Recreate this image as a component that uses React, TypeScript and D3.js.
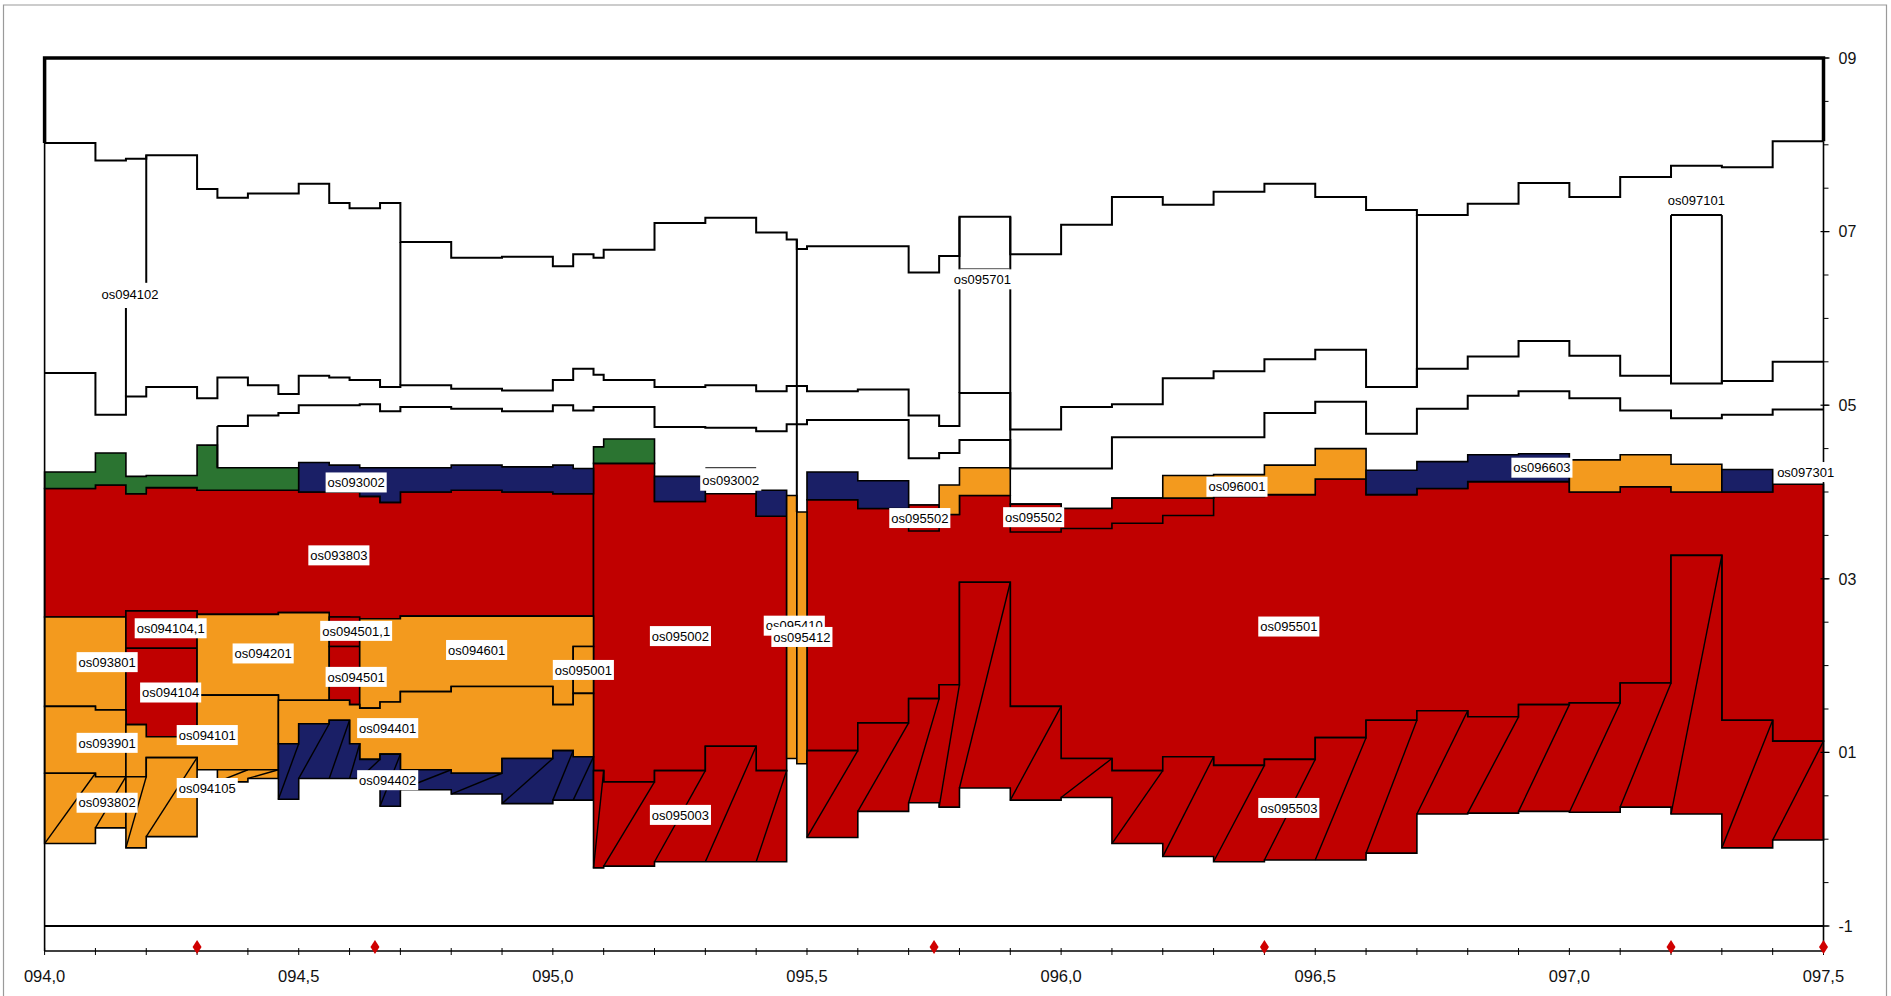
import React from 'react';
import * as d3 from 'd3';

const RED = '#c00000';
const ORANGE = '#f39a1e';
const NAVY = '#1a1f66';
const GREEN = '#2b7431';

// boundary step lines of the white upper units: [x, value]
const lineA = [[94.0, 8.02], [94.1, 7.82], [94.16, 7.84], [94.2, 7.88], [94.3, 7.49], [94.34, 7.39], [94.4, 7.44], [94.5, 7.55], [94.56, 7.33], [94.6, 7.27], [94.66, 7.33], [94.7, 6.88], [94.8, 6.70], [94.9, 6.71], [95.0, 6.60], [95.04, 6.74], [95.08, 6.70], [95.1, 6.79], [95.2, 7.10], [95.3, 7.16], [95.4, 6.99], [95.46, 6.91], [95.48, 6.80], [95.5, 6.83], [95.7, 6.53], [95.76, 6.72], [95.8, 7.17], [95.9, 6.74], [96.0, 7.08], [96.1, 7.40], [96.2, 7.31], [96.3, 7.46], [96.4, 7.55], [96.5, 7.40], [96.6, 7.25], [96.7, 7.19], [96.8, 7.32], [96.9, 7.56], [97.0, 7.40], [97.1, 7.63], [97.2, 7.76], [97.3, 7.74], [97.4, 8.04], [97.5, 8.04]];
const lineB = [[94.0, 5.37], [94.1, 4.89], [94.16, 5.10], [94.2, 5.21], [94.3, 5.08], [94.34, 5.32], [94.4, 5.23], [94.46, 5.13], [94.5, 5.34], [94.56, 5.32], [94.6, 5.29], [94.66, 5.21], [94.7, 5.23], [94.8, 5.19], [94.9, 5.17], [95.0, 5.29], [95.04, 5.42], [95.08, 5.35], [95.1, 5.29], [95.2, 5.21], [95.3, 5.23], [95.4, 5.16], [95.46, 5.22], [95.5, 5.16], [95.6, 5.18], [95.7, 4.88], [95.76, 4.76], [95.8, 5.14], [95.9, 4.72], [96.0, 4.98], [96.1, 5.01], [96.2, 5.31], [96.3, 5.39], [96.4, 5.53], [96.5, 5.64], [96.6, 5.21], [96.7, 5.42], [96.8, 5.56], [96.9, 5.74], [97.0, 5.57], [97.1, 5.34], [97.2, 5.25], [97.3, 5.28], [97.4, 5.50], [97.5, 5.50]];
const lineC = [[94.34, 4.76], [94.4, 4.88], [94.46, 4.91], [94.5, 5.00], [94.62, 5.01], [94.66, 4.93], [94.7, 4.98], [94.8, 4.96], [94.9, 4.93], [95.0, 5.00], [95.04, 4.94], [95.08, 4.98], [95.2, 4.75], [95.3, 4.74], [95.4, 4.70], [95.46, 4.78], [95.5, 4.83], [95.7, 4.39], [95.76, 4.45], [95.8, 4.60], [95.9, 4.27], [96.1, 4.63], [96.4, 4.91], [96.5, 5.04], [96.6, 4.67], [96.7, 4.96], [96.8, 5.11], [96.9, 5.16], [97.0, 5.08], [97.1, 4.94], [97.2, 4.85], [97.3, 4.89], [97.4, 4.95], [97.5, 4.95]];

// vertical separators: [x, from, to]
const separators = [[94.2, 7.88, 6.41], [94.16, 6.12, 5.10], [94.7, 6.88, 5.23], [94.34, 4.76, 4.28], [95.48, 6.91, 3.77], [95.8, 7.17, 5.14], [95.9, 7.17, 4.28], [96.7, 7.19, 5.21], [97.2, 7.19, 5.25], [97.3, 7.19, 5.25]];
// short horizontal segments: [x0, x1, value]
const segments = [[97.2, 97.3, 7.19], [95.8, 95.9, 6.57], [95.3, 95.4, 4.28]];

// coloured units: rows [xStart, top, bottom], last row [xEnd]
const os093803 = [[94.0, 4.04, 2.56], [94.1, 4.08, 2.56], [94.16, 3.98, 2.63], [94.2, 4.05, 2.63], [94.3, 4.02, 2.59], [94.46, 4.02, 2.61], [94.5, 4.00, 2.61], [94.56, 4.00, 2.56], [94.6, 4.00, 2.54], [94.62, 3.95, 2.54], [94.66, 3.88, 2.54], [94.7, 4.00, 2.57], [94.8, 4.02, 2.57], [94.9, 4.00, 2.57], [95.0, 3.98, 2.57], [95.08]];
const os095002 = [[95.08, 4.33, 0.79], [95.1, 4.33, 0.66], [95.2, 3.89, 0.79], [95.3, 3.98, 1.07], [95.4, 3.72, 0.79], [95.46]];
const os095501 = [[95.5, 3.91, 1.02], [95.6, 3.81, 1.34], [95.7, 3.85, 1.62], [95.76, 3.74, 1.78], [95.8, 3.96, 2.96], [95.9, 3.86, 1.53], [96.0, 3.81, 0.93], [96.1, 3.93, 0.79], [96.2, 3.93, 0.95], [96.3, 3.95, 0.85], [96.4, 3.97, 0.92], [96.5, 4.15, 1.17], [96.6, 3.97, 1.37], [96.7, 4.04, 1.48], [96.8, 4.12, 1.41], [96.9, 4.12, 1.55], [97.0, 4.00, 1.57], [97.1, 4.06, 1.80], [97.2, 4.00, 3.27], [97.3, 4.00, 1.37], [97.4, 4.09, 1.13], [97.5]];
const os095502a = [[95.7, 3.85, 3.55], [95.76]];
const os095502b = [[95.9, 3.86, 3.54], [96.0, 3.81, 3.58], [96.1, 3.93, 3.64], [96.2, 3.93, 3.73], [96.3]];
const green1 = [[94.0, 4.23, 4.04], [94.1, 4.45, 4.08], [94.16, 4.18, 3.98], [94.2, 4.19, 4.05], [94.3, 4.54, 4.02], [94.34, 4.28, 4.02], [94.5]];
const os093002a = [[94.5, 4.34, 4.00], [94.56, 4.31, 4.00], [94.62, 4.28, 3.95], [94.66, 4.28, 3.88], [94.7, 4.28, 4.00], [94.8, 4.31, 4.02], [94.9, 4.29, 4.00], [95.0, 4.31, 3.98], [95.04, 4.27, 3.98], [95.08]];
const green2 = [[95.08, 4.52, 4.33], [95.1, 4.61, 4.33], [95.2]];
const os093002b = [[95.2, 4.18, 3.89], [95.3]];
const navy2 = [[95.4, 4.02, 3.72], [95.46]];
const os095410 = [[95.46, 3.96, 0.93], [95.48]];
const os095412 = [[95.48, 3.77, 0.87], [95.5]];
const navy3 = [[95.5, 4.23, 3.91], [95.6, 4.13, 3.81], [95.7]];
const orange3 = [[95.76, 4.08, 3.74], [95.8, 4.28, 3.96], [95.9]];
const os096001 = [[96.2, 4.19, 3.93], [96.3, 4.20, 3.95], [96.4, 4.31, 3.97], [96.5, 4.50, 4.15], [96.6]];
const os096603 = [[96.6, 4.25, 3.97], [96.7, 4.35, 4.04], [96.8, 4.43, 4.12], [96.9, 4.44, 4.12], [97.0]];
const orange4 = [[97.0, 4.37, 4.00], [97.1, 4.43, 4.06], [97.2, 4.32, 4.00], [97.3]];
const os097301 = [[97.3, 4.26, 4.00], [97.4]];
const os093801 = [[94.0, 2.56, 1.53], [94.1, 2.56, 1.49], [94.16]];
const os094104_1 = [[94.16, 2.63, 2.20], [94.3]];
const os094104 = [[94.16, 2.20, 1.32], [94.2, 2.20, 1.18], [94.3]];
const os094201 = [[94.3, 2.59, 1.66], [94.46, 2.61, 1.60], [94.56]];
const os094501_1 = [[94.56, 2.56, 2.22], [94.62]];
const os094501 = [[94.56, 2.22, 1.60], [94.6, 2.22, 1.55], [94.62]];
const os094601 = [[94.62, 2.54, 1.51], [94.66, 2.54, 1.58], [94.7, 2.57, 1.70], [94.8, 2.57, 1.76], [95.0, 2.57, 1.55], [95.04, 2.57, 2.22], [95.08]];
const os095001 = [[95.04, 2.22, 1.68], [95.08]];
const os093901 = [[94.0, 1.53, 0.76], [94.1, 1.49, 0.72], [94.16]];
const os094101 = [[94.16, 1.32, 0.72], [94.2, 1.18, 0.94], [94.3, 1.66, 0.80], [94.46]];
const os094401 = [[94.46, 1.60, 1.10], [94.5, 1.60, 1.33], [94.56, 1.60, 1.37], [94.6, 1.55, 1.10], [94.62, 1.51, 0.92], [94.66, 1.58, 0.98], [94.7, 1.70, 0.80], [94.8, 1.76, 0.76], [94.9, 1.76, 0.93], [95.0, 1.55, 1.02], [95.04, 1.68, 0.95], [95.08]];
// hatched units
const os093802 = [[94.0, 0.76, -0.05], [94.1, 0.72, 0.13], [94.16]];
const os094105 = [[94.16, 0.72, -0.10], [94.2, 0.94, 0.03], [94.3]];
const os094105b = [[94.34, 0.80, 0.66], [94.4, 0.80, 0.70], [94.46]];
const os094402 = [[94.46, 1.10, 0.46], [94.5, 1.33, 0.70], [94.56, 1.37, 0.70], [94.6, 1.10, 0.70], [94.62, 0.92, 0.70], [94.66, 0.98, 0.38], [94.7, 0.80, 0.57], [94.8, 0.76, 0.52], [94.9, 0.93, 0.41], [95.0, 1.02, 0.45], [95.04, 0.95, 0.45], [95.08]];
const os095003 = [[95.08, 0.79, -0.33], [95.1, 0.66, -0.31], [95.2, 0.79, -0.26], [95.3, 1.07, -0.26], [95.4, 0.79, -0.26], [95.46]];
const os095503 = [[95.5, 1.02, 0.02], [95.6, 1.34, 0.32], [95.7, 1.62, 0.42], [95.76, 1.78, 0.37], [95.8, 2.96, 0.59], [95.9, 1.53, 0.45], [96.0, 0.93, 0.48], [96.1, 0.79, -0.05], [96.2, 0.95, -0.20], [96.3, 0.85, -0.26], [96.4, 0.92, -0.24], [96.5, 1.17, -0.24], [96.6, 1.37, -0.16], [96.7, 1.48, 0.29], [96.8, 1.41, 0.30], [96.9, 1.55, 0.32], [97.0, 1.57, 0.31], [97.1, 1.80, 0.37], [97.2, 3.27, 0.29], [97.3, 1.37, -0.10], [97.4, 1.13, -0.01], [97.5]];

const units = [
  { rows: os093803, fill: RED }, { rows: os095002, fill: RED }, { rows: os095501, fill: RED },
  { rows: os095502a, fill: RED }, { rows: os095502b, fill: RED },
  { rows: green1, fill: GREEN }, { rows: os093002a, fill: NAVY }, { rows: green2, fill: GREEN },
  { rows: os093002b, fill: NAVY }, { rows: navy2, fill: NAVY }, { rows: os095410, fill: ORANGE },
  { rows: os095412, fill: ORANGE }, { rows: navy3, fill: NAVY }, { rows: orange3, fill: ORANGE },
  { rows: os096001, fill: ORANGE }, { rows: os096603, fill: NAVY }, { rows: orange4, fill: ORANGE },
  { rows: os097301, fill: NAVY },
  { rows: os093801, fill: ORANGE }, { rows: os094104_1, fill: RED }, { rows: os094104, fill: RED },
  { rows: os094201, fill: ORANGE }, { rows: os094501_1, fill: RED }, { rows: os094501, fill: RED },
  { rows: os094601, fill: ORANGE }, { rows: os095001, fill: ORANGE }, { rows: os093901, fill: ORANGE },
  { rows: os094101, fill: ORANGE }, { rows: os094401, fill: ORANGE },
  { rows: os093802, fill: ORANGE, hatch: true }, { rows: os094105, fill: ORANGE, hatch: true },
  { rows: os094105b, fill: ORANGE, hatch: true }, { rows: os094402, fill: NAVY, hatch: true },
  { rows: os095003, fill: RED, hatch: true }, { rows: os095503, fill: RED, hatch: true },
];

// labels: [text, x, y]
const labels: [string, number, number][] = [
  ['os094102', 94.168, 6.28], ['os095701', 95.845, 6.45], ['os097101', 97.25, 7.36],
  ['os093002', 94.613, 4.11], ['os093002', 95.35, 4.13], ['os093803', 94.579, 3.27],
  ['os094104,1', 94.248, 2.43], ['os093801', 94.123, 2.04], ['os094201', 94.43, 2.14],
  ['os094501,1', 94.613, 2.40], ['os094501', 94.613, 1.87], ['os094601', 94.85, 2.18],
  ['os095001', 95.06, 1.95], ['os094104', 94.248, 1.69], ['os094401', 94.675, 1.28],
  ['os093901', 94.123, 1.11], ['os094101', 94.32, 1.20], ['os094402', 94.675, 0.68],
  ['os094105', 94.32, 0.59], ['os093802', 94.123, 0.42], ['os095002', 95.251, 2.34],
  ['os095410', 95.475, 2.46], ['os095412', 95.49, 2.33], ['os095003', 95.251, 0.28],
  ['os095502', 95.722, 3.70], ['os095502', 95.946, 3.71], ['os096001', 96.346, 4.06],
  ['os096603', 96.946, 4.28], ['os097301', 97.465, 4.23], ['os095501', 96.448, 2.45],
  ['os095503', 96.448, 0.36],
];

const yTickValues = [9, 7, 5, 3, 1, -1];
const yTickLabels = ['09', '07', '05', '03', '01', '-1'];
const xTickValues = [94.0, 94.5, 95.0, 95.5, 96.0, 96.5, 97.0, 97.5];
const xTickLabels = ['094,0', '094,5', '095,0', '095,5', '096,0', '096,5', '097,0', '097,5'];
const markerX = [94.3, 94.65, 95.75, 96.4, 97.2, 97.5];

const FONT = '"Liberation Sans", Arial, sans-serif';

export default function App() {
  const x = d3.scaleLinear().domain([94, 97.5]).range([44.6, 1823.5]);
  const y = d3.scaleLinear().domain([-1, 9]).range([926, 58]);
  const AXIS_Y = 951;

  const stepLine = d3.line<number[]>().x(d => x(d[0])).y(d => y(d[1])).curve(d3.curveStepAfter);
  const poly = d3.line<number[]>().x(d => x(d[0])).y(d => y(d[1]));

  const unitPath = (rows: number[][]) => {
    const pts: number[][] = [];
    for (let i = 0; i < rows.length - 1; i++) {
      pts.push([rows[i][0], rows[i][1]], [rows[i + 1][0], rows[i][1]]);
    }
    for (let i = rows.length - 2; i >= 0; i--) {
      pts.push([rows[i + 1][0], rows[i][2]], [rows[i][0], rows[i][2]]);
    }
    return poly(pts) + 'Z';
  };

  const cw = (c: string) => (c === 's' ? 0.5 : c === ',' ? 0.278 : 0.556);
  const textW = (t: string, fs: number) => t.split('').reduce((a, c) => a + cw(c) * fs, 0);
  const LFS = 13;

  const minorY = d3.range(-1, 9.001, 0.5);
  const minorX = d3.range(0, 36).map(i => 94 + i * 0.1);

  return (
    <svg width={1891} height={996} style={{ position: 'absolute', left: 0, top: 0, background: '#fff' }}
      fontFamily={FONT}>
      <rect x={0} y={0} width={1891} height={996} fill="#fff" />
      {/* outer border */}
      <path d="M3.5,996 V5 H1886.5 V996" fill="none" stroke="#9a9a9a" strokeWidth={1.2} />

      {/* coloured units */}
      {units.map((u, i) => (
        <g key={i}>
          <path d={unitPath(u.rows)} fill={u.fill} stroke="#000" strokeWidth={1.6} strokeLinejoin="miter" />
          {u.hatch && u.rows.slice(0, -1).map((r, j) => (
            <line key={j} x1={x(r[0])} y1={y(r[2])} x2={x(u.rows[j + 1][0])} y2={y(r[1])}
              stroke="#000" strokeWidth={1.4} />
          ))}
        </g>
      ))}

      {/* white unit boundaries */}
      {[lineA, lineB, lineC].map((l, i) => (
        <path key={i} d={stepLine(l) || ''} fill="none" stroke="#000" strokeWidth={2} />
      ))}
      {separators.map((s, i) => (
        <line key={i} x1={x(s[0])} x2={x(s[0])} y1={y(s[1])} y2={y(s[2])} stroke="#000" strokeWidth={2} />
      ))}
      {segments.map((s, i) => (
        <line key={i} x1={x(s[0])} x2={x(s[1])} y1={y(s[2])} y2={y(s[2])} stroke={i === 0 ? '#000' : '#444'}
          strokeWidth={i === 0 ? 2 : 1.3} />
      ))}

      {/* frame */}
      <path d={`M${x(94)},${y(lineA[0][1])} V${y(9)} H${x(97.5)} V${y(lineA[lineA.length - 1][1])}`}
        fill="none" stroke="#000" strokeWidth={3.5} />
      <line x1={x(94)} x2={x(94)} y1={y(lineA[0][1])} y2={AXIS_Y} stroke="#000" strokeWidth={1.6} />
      <line x1={x(97.5)} x2={x(97.5)} y1={y(lineA[lineA.length - 1][1])} y2={AXIS_Y} stroke="#000" strokeWidth={1.6} />
      <line x1={x(94)} x2={x(97.5)} y1={y(-1)} y2={y(-1)} stroke="#000" strokeWidth={2.2} />

      {/* labels */}
      {labels.map(([t, lx, ly], i) => {
        const w = textW(t, LFS) + 4;
        return (
          <g key={i}>
            <rect x={x(lx) - w / 2} y={y(ly) - 10} width={w} height={20} fill="#fff" />
            <text x={x(lx)} y={y(ly)} dy="0.36em" textAnchor="middle" fontSize={LFS} fill="#000">{t}</text>
          </g>
        );
      })}

      {/* right axis */}
      {minorY.map((v, i) => (
        <line key={i} x1={x(97.5)} x2={x(97.5) + 5} y1={y(v)} y2={y(v)} stroke="#000" strokeWidth={1} />
      ))}
      {yTickValues.map((v, i) => (
        <g key={i}>
          <line x1={x(97.5) - 3} x2={x(97.5) + 6} y1={y(v)} y2={y(v)} stroke="#000" strokeWidth={1.2} />
          <text x={x(97.5) + 15} y={y(v)} dy="0.36em" fontSize={16} fill="#111">{yTickLabels[i]}</text>
        </g>
      ))}

      {/* bottom axis */}
      <line x1={x(94)} x2={x(97.5)} y1={AXIS_Y} y2={AXIS_Y} stroke="#000" strokeWidth={1.6} />
      {minorX.map((v, i) => (
        <line key={i} x1={x(v)} x2={x(v)} y1={AXIS_Y - 3} y2={AXIS_Y + 4} stroke="#000" strokeWidth={1} />
      ))}
      {markerX.map((v, i) => (
        <path key={i} d={`M${x(v)},${AXIS_Y - 11} L${x(v) + 4.5},${AXIS_Y - 4} L${x(v)},${AXIS_Y + 3} L${x(v) - 4.5},${AXIS_Y - 4} Z`}
          fill="#d00000" />
      ))}
      {xTickValues.map((v, i) => (
        <text key={i} x={x(v)} y={976} dy="0.36em" textAnchor="middle" fontSize={16.5} fill="#111">{xTickLabels[i]}</text>
      ))}
    </svg>
  );
}
